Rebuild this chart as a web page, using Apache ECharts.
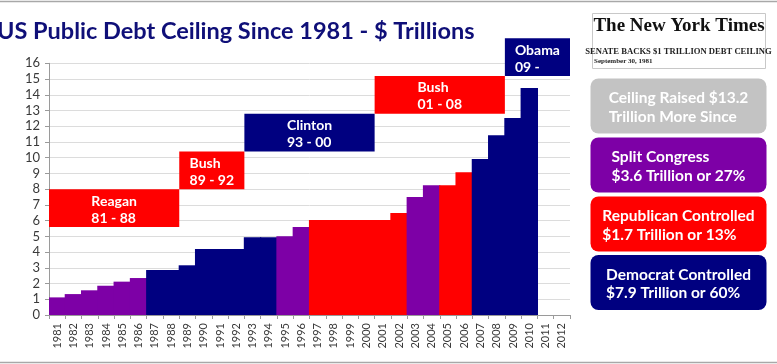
<!DOCTYPE html>
<html>
<head>
<meta charset="utf-8">
<script src="https://cdn.jsdelivr.net/npm/echarts@6/dist/echarts.min.js"></script>
<style>
html,body{margin:0;padding:0;background:#fff;}
#chart{width:777px;height:364px;}
</style>
</head>
<body>
<div id="chart"></div>
<script>
// ---- data ----
var years = ['1981','1982','1983','1984','1985','1986','1987','1988','1989','1990','1991','1992','1993','1994','1995','1996',
             '1997','1998','1999','2000','2001','2002','2003','2004','2005','2006','2007','2008','2009','2010','2011','2012'];
var ceiling = [1.12,1.33,1.57,1.86,2.12,2.35,2.86,2.86,3.16,4.2,4.2,4.2,4.94,4.94,5.0,5.59,
               6.04,6.04,6.04,6.04,6.04,6.48,7.5,8.24,8.24,9.07,9.92,11.42,12.52,14.43,null,null];
// S = split congress, D = democrat controlled, R = republican controlled
var control = ['S','S','S','S','S','S','D','D','D','D','D','D','D','D','S','S',
               'R','R','R','R','R','R','S','S','R','R','D','D','D','D','',''];
var yTicks = [0,16,1];

// presidential term boxes
var termNames = ['Reagan','Bush','Clinton','Bush','Obama'];
var termYears = ['81 - 88','89 - 92','93 - 00','01 - 08','09 -'];
var termStart = ['1981','1989','1993','2001','2009'];
var termEnd = ['1988','1992','2000','2008','2012'];
var termLow = [5.6,8.0,10.4,12.8,15.2];
var termHigh = [8.0,10.4,12.8,15.2,17.6];
var termParty = ['R','R','D','R','D'];

// side panel
var panelLines = [
  ['Ceiling Raised $13.2','Trillion More Since'],
  ['Split Congress','$3.6 Trillion or 27%'],
  ['Republican Controlled','$1.7 Trillion or 13%'],
  ['Democrat Controlled','$7.9 Trillion or 60%']
];
var panelKind = ['G','S','R','D'];

var titleText = 'US Public Debt Ceiling Since 1981 - $ Trillions';
var nytTitle = 'The New York Times';
var nytHead = 'SENATE BACKS $1 TRILLION DEBT CEILING';
var nytDate = 'September 30, 1981';

// ---- styles ----
var COLORS = {S:'#7d00a6', D:'#000080', R:'#ff0000', G:'#c3c3c3'};
var FONT = 'Lato, "Open Sans", sans-serif';

var measureCtx = document.createElement('canvas').getContext('2d');
function textWidth(str, font){ measureCtx.font = font; return measureCtx.measureText(str).width; }

var barData = ceiling.map(function(v,i){
  var c = COLORS[control[i]] || '#000080';
  return {value:v, itemStyle:{color: c}};
});
var boxData = termNames.map(function(n,i){
  return [years.indexOf(termStart[i]), termLow[i], years.indexOf(termEnd[i]), termHigh[i]];
});

var chart = echarts.init(document.getElementById('chart'), null, {renderer:'canvas'});

var boxFont = 'bold 14px ' + FONT;
function renderBox(params, api){
  var i = params.dataIndex;
  var bw = api.size([1,0])[0];
  var p0 = api.coord([api.value(0), api.value(1)]);
  var p1 = api.coord([api.value(2), api.value(3)]);
  var x0 = p0[0] - bw/2, x1 = p1[0] + bw/2;
  var yTop = p1[1], yBot = p0[1];
  var lines = [termNames[i], termYears[i]];
  var w = Math.max(textWidth(lines[0], boxFont), textWidth(lines[1], boxFont));
  var cx = (x0 + x1)/2, cy = (yTop + yBot)/2 + 1.5;
  return {
    type:'group',
    children:[
      {type:'rect', shape:{x:x0, y:yTop, width:x1-x0, height:yBot-yTop},
       style:{fill: COLORS[termParty[i]]}},
      {type:'text', x: cx - w/2, y: cy,
       style:{text: lines.join('\n'), fill:'#fff', font: boxFont, align:'left', verticalAlign:'middle', lineHeight:17}}
    ]
  };
}

// side panel graphics
var graphics = [];
graphics.push({type:'line', shape:{x1:0,y1:1.5,x2:777,y2:1.5}, style:{stroke:'#a8a8a8', lineWidth:1.5}});
graphics.push({type:'line', shape:{x1:0,y1:362.5,x2:777,y2:362.5}, style:{stroke:'#a8a8a8', lineWidth:1.5}});
graphics.push({type:'text', x:-3, y:31, style:{text:titleText, fill:'#0f0f78', font:'bold 23.5px ' + FONT, verticalAlign:'middle'}});
// NYT clipping
graphics.push({type:'rect', shape:{x:592.5, y:13.5, width:173, height:55}, style:{fill:'#fff', stroke:'#c8c8c8', lineWidth:1}});
graphics.push({type:'text', x:679, y:26, style:{text:nytTitle, fill:'#111', font:'bold 19px "Liberation Serif", serif', align:'center', verticalAlign:'middle'}});
graphics.push({type:'text', x:678.5, y:51.5, style:{text:nytHead, fill:'#222', font:'bold 8.6px "Liberation Serif", serif', align:'center', verticalAlign:'middle'}});
graphics.push({type:'text', x:594, y:61.5, style:{text:nytDate, fill:'#222', font:'bold 7px "Liberation Serif", serif', verticalAlign:'middle'}});

var panelTops = [78.5, 137.5, 196.5, 255];
var panelH = 55;
var panelFont = 'bold 15.5px ' + FONT;
panelLines.forEach(function(lines, i){
  var x0 = 590.5, w0 = 176;
  graphics.push({type:'rect', shape:{x:x0, y:panelTops[i], width:w0, height:panelH, r:8},
    style:{fill: COLORS[panelKind[i]]}});
  var w = Math.max(textWidth(lines[0], panelFont), textWidth(lines[1], panelFont));
  graphics.push({type:'text', x: x0 + w0/2 - w/2, y: panelTops[i] + panelH/2 + 1.5,
    style:{text: lines.join('\n'), fill:'#fff', font: panelFont, align:'left', verticalAlign:'middle', lineHeight:18.5}});
});

chart.setOption({
  animation:false,
  backgroundColor:'#fff',
  grid:{left:49, right:207, top:63.3, bottom:49, containLabel:false},
  xAxis:{
    type:'category', data:years, boundaryGap:true,
    axisLine:{lineStyle:{color:'#9a9a9a'}},
    axisTick:{show:true, length:4, lineStyle:{color:'#9a9a9a'}},
    axisLabel:{rotate:90, fontSize:11, color:'#3a3a3a', fontFamily:FONT, margin:8, interval:0}
  },
  yAxis:{
    type:'value', min:yTicks[0], max:yTicks[1], interval:yTicks[2],
    axisLine:{show:true, lineStyle:{color:'#9a9a9a'}},
    axisTick:{show:true, length:4, lineStyle:{color:'#9a9a9a'}},
    axisLabel:{fontSize:13, color:'#3a3a3a', fontFamily:FONT, margin:9},
    splitLine:{lineStyle:{color:'#dcdcdc', width:1}}
  },
  series:[
    {type:'bar', data:barData, barWidth:'107%', barGap:'-100%', z:2},
    {type:'custom', data:boxData, renderItem:renderBox, clip:false, z:3,
     encode:{x:[0,2], y:[1,3]}}
  ],
  graphic:graphics
});
</script>
</body>
</html>
